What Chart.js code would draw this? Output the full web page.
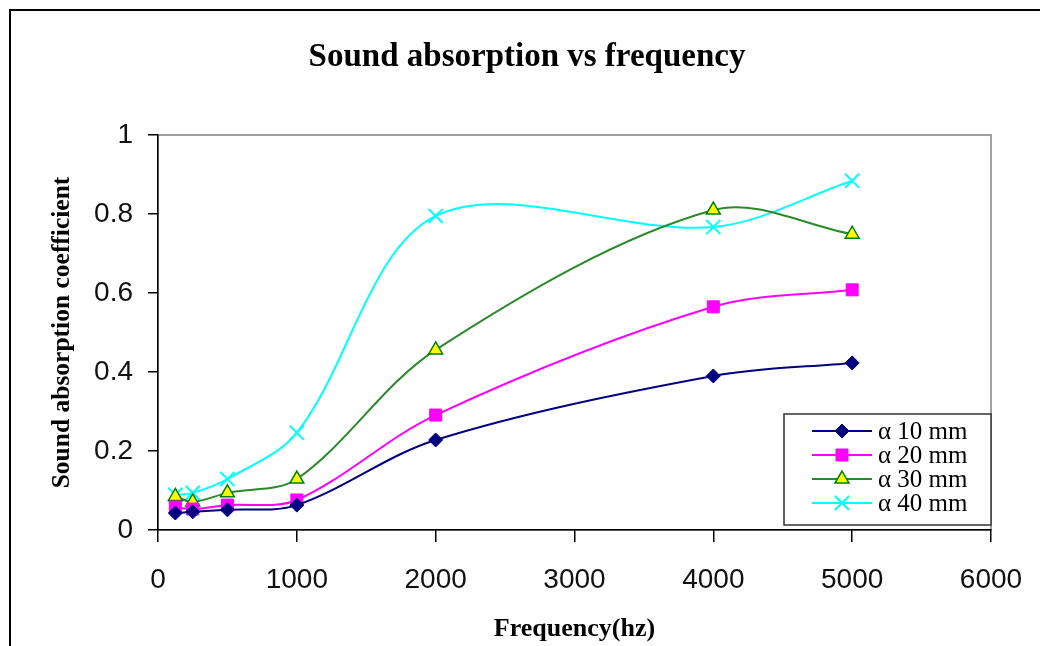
<!DOCTYPE html>
<html><head><meta charset="utf-8">
<script src="https://cdn.jsdelivr.net/npm/chart.js@4.4.1/dist/chart.umd.min.js"></script>
<style>html,body{margin:0;padding:0;background:#fff;}#wrap{width:1040px;height:646px;position:relative;}</style>
</head><body><div id="wrap"><canvas id="c" width="1040" height="646"></canvas></div>
<script>
// ---- data ----
const frequencies = [125, 250, 500, 1000, 2000, 4000, 5000];
const alpha10 = [0.043, 0.046, 0.051, 0.063, 0.228, 0.390, 0.423];
const alpha20 = [0.058, 0.053, 0.063, 0.076, 0.291, 0.565, 0.608];
const alpha30 = [0.085, 0.071, 0.094, 0.129, 0.456, 0.810, 0.749];
const alpha40 = [0.089, 0.094, 0.129, 0.246, 0.795, 0.767, 0.884];
const seriesLabels = ['α 10 mm', 'α 20 mm', 'α 30 mm', 'α 40 mm'];
const xTickValues = [0, 1000, 2000, 3000, 4000, 5000, 6000];
const yTickValues = [0, 0.2, 0.4, 0.6, 0.8, 1];

const toXY = arr => frequencies.map((f, i) => ({x: f, y: arr[i]}));

const datasets = [
  {label: seriesLabels[0], data: toXY(alpha10), borderColor: '#000080', backgroundColor: '#000080',
   pointStyle: 'rectRot', pointRadius: 7, pointBackgroundColor: '#000080', pointBorderColor: '#000080', pointBorderWidth: 1},
  {label: seriesLabels[1], data: toXY(alpha20), borderColor: '#FF00FF', backgroundColor: '#FF00FF',
   pointStyle: 'rect', pointRadius: 8.5, pointBackgroundColor: '#FF00FF', pointBorderColor: '#FF00FF', pointBorderWidth: 1},
  {label: seriesLabels[2], data: toXY(alpha30), borderColor: '#2a8a2a', backgroundColor: '#FFFF00',
   pointStyle: 'triangle', pointRadius: 8, pointBackgroundColor: '#FFFF00', pointBorderColor: '#008000', pointBorderWidth: 1.5},
  {label: seriesLabels[3], data: toXY(alpha40), borderColor: '#00FFFF', backgroundColor: '#00FFFF',
   pointStyle: 'crossRot', pointRadius: 10, pointBackgroundColor: '#00FFFF', pointBorderColor: '#00FFFF', pointBorderWidth: 2}
];
datasets.forEach(d => { d.borderWidth = 2; d.tension = 0.33; d.fill = false; d.clip = false; });

const decorPlugin = {
  id: 'decor',
  beforeDraw(chart) {
    const ctx = chart.ctx, a = chart.chartArea;
    ctx.save();
    ctx.fillStyle = '#fff';
    ctx.fillRect(0, 0, chart.width, chart.height);
    // outer frame (left and top visible)
    ctx.strokeStyle = '#000';
    ctx.lineWidth = 2;
    ctx.beginPath();
    ctx.moveTo(10, chart.height);
    ctx.lineTo(10, 10);
    ctx.lineTo(chart.width, 10);
    ctx.stroke();
    // plot area border
    ctx.strokeStyle = '#a0a0a0';
    ctx.lineWidth = 2;
    ctx.strokeRect(a.left, a.top, a.right - a.left, a.bottom - a.top);
    ctx.restore();
  },
  afterLayout(chart) {
    const tb = chart.titleBlock;
    if (tb) { tb.left = 2 * 527 - tb.right; }
  },
  afterDraw(chart) {
    const ctx = chart.ctx, a = chart.chartArea;
    const w = 207, h = 111;
    const right = a.right, bottom = a.bottom - 5;
    const left = right - w, top = bottom - h;
    ctx.save();
    ctx.fillStyle = '#fff';
    ctx.fillRect(left, top, w, h);
    ctx.strokeStyle = '#333';
    ctx.lineWidth = 1.5;
    ctx.strokeRect(left, top, w, h);
    ctx.font = '25px "Liberation Serif"';
    ctx.textBaseline = 'middle';
    ctx.textAlign = 'left';
    chart.data.datasets.forEach((ds, i) => {
      const y = top + 17 + i * 24;
      ctx.strokeStyle = ds.borderColor;
      ctx.lineWidth = 2;
      ctx.beginPath();
      ctx.moveTo(left + 28, y);
      ctx.lineTo(left + 88, y);
      ctx.stroke();
      ctx.fillStyle = ds.pointBackgroundColor;
      ctx.strokeStyle = ds.pointBorderColor;
      ctx.lineWidth = ds.pointBorderWidth;
      if (Chart.helpers && Chart.helpers.drawPoint) {
        Chart.helpers.drawPoint(ctx, {pointStyle: ds.pointStyle, radius: ds.pointRadius, rotation: 0, borderWidth: ds.pointBorderWidth}, left + 58, y);
      }
      ctx.fillStyle = '#000';
      ctx.fillText(ds.label, left + 94, y + 1);
    });
    ctx.restore();
  }
};

new Chart(document.getElementById('c'), {
  type: 'line',
  data: {datasets},
  options: {
    responsive: false,
    animation: false,
    events: [],
    layout: {padding: {left: 0, right: 49, top: 0, bottom: 0}},
    plugins: {
      legend: {display: false},
      tooltip: {enabled: false},
      title: {
        display: true,
        text: 'Sound absorption vs frequency',
        color: '#000',
        font: {family: 'Liberation Serif', size: 33, weight: 'bold'},
        padding: {top: 38, bottom: 57.4}
      }
    },
    scales: {
      x: {
        type: 'linear', min: 0, max: 6000,
        afterBuildTicks: s => { s.ticks = xTickValues.map(v => ({value: v})); },
        afterFit: s => { s.height = 116; s.paddingLeft = 0; s.paddingRight = 0; },
        ticks: {
          callback: v => String(v),
          color: '#111', padding: 21, maxRotation: 0, autoSkip: false,
          font: {family: 'Liberation Sans', size: 28}
        },
        grid: {display: true, drawOnChartArea: false, drawTicks: true, tickLength: 12, color: '#000', lineWidth: 1.5},
        border: {display: true, color: '#000', width: 1.5},
        title: {
          display: true, text: 'Frequency(hz)', color: '#000',
          font: {family: 'Liberation Serif', size: 26, weight: 'bold'},
          padding: {top: 0, bottom: 1}
        }
      },
      y: {
        type: 'linear', min: 0, max: 1,
        afterBuildTicks: s => { s.ticks = yTickValues.map(v => ({value: v})); },
        afterFit: s => { s.width = 158; },
        ticks: {
          callback: v => String(v),
          color: '#111', padding: 15,
          font: {family: 'Liberation Sans', size: 28}
        },
        grid: {display: true, drawOnChartArea: false, drawTicks: true, tickLength: 10, color: '#000', lineWidth: 1.5},
        border: {display: true, color: '#000', width: 1.5},
        title: {
          display: true, text: 'Sound absorption coefficient', color: '#000',
          font: {family: 'Liberation Serif', size: 25.5, weight: 'bold'},
          padding: {top: 47, bottom: 0}
        }
      }
    }
  },
  plugins: [decorPlugin]
});
</script>
</body></html>
